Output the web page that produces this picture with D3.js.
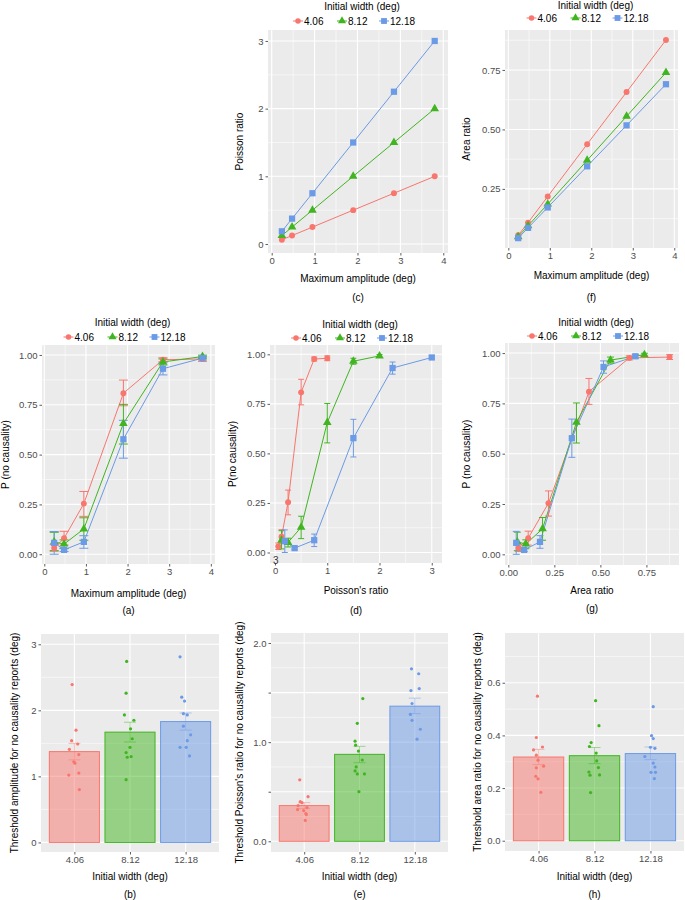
<!DOCTYPE html>
<html><head><meta charset="utf-8">
<script src="https://cdn.jsdelivr.net/npm/d3@7"></script>
<style>body{margin:0;background:#fff}svg{display:block;font-family:"Liberation Sans",Arial,Helvetica,sans-serif}</style>
</head><body><svg id="chart" width="685" height="900"></svg>
<script>
// ---------------- DATA ----------------
const widths = ["4.06", "8.12", "12.18"];
const amplitude = [0.2375, 0.475, 0.95, 1.9, 2.85, 3.8];

const poissonRed   = [0.0625, 0.125, 0.25, 0.5, 0.75, 1.0];
const poissonGreen = [0.125, 0.25, 0.5, 1.0, 1.5, 2.0];
const poissonBlue  = [0.1875, 0.375, 0.75, 1.5, 2.25, 3.0];

const areaRed   = [0.055, 0.108, 0.218, 0.438, 0.657, 0.876];
const areaGreen = [0.049, 0.095, 0.186, 0.370, 0.555, 0.739];
const areaBlue  = [0.043, 0.086, 0.172, 0.345, 0.517, 0.690];

const pRed     = [0.031, 0.080, 0.254, 0.808, 0.976, 0.980];
const pRedLo   = [0.015, 0.046, 0.190, 0.745, 0.966, 0.968];
const pRedHi   = [0.048, 0.115, 0.315, 0.874, 0.986, 0.992];
const pGreen   = [0.062, 0.051, 0.127, 0.656, 0.965, 0.992];
const pGreenLo = [0.018, 0.028, 0.070, 0.553, 0.950, 0.985];
const pGreenHi = [0.110, 0.072, 0.183, 0.752, 0.980, 0.999];
const pBlue    = [0.057, 0.022, 0.062, 0.577, 0.931, 0.984];
const pBlueLo  = [0.000, 0.014, 0.030, 0.482, 0.900, 0.975];
const pBlueHi  = [0.114, 0.030, 0.093, 0.672, 0.961, 0.993];

// threshold amplitude (b)
const ampMeans = [1.375, 1.67, 1.83];
const ampSeLo  = [1.25, 1.52, 1.70];
const ampSeHi  = [1.50, 1.82, 1.96];
const ampPtsRed   = [2.39, 1.70, 1.54, 1.41, 1.49, 1.33, 1.22, 1.20, 1.02, 1.05, 0.80];
const ampPtsGreen = [2.74, 2.26, 1.93, 1.85, 1.72, 1.57, 1.44, 1.36, 1.29, 1.30, 0.95];
const ampPtsBlue  = [2.81, 2.20, 2.14, 1.95, 1.93, 1.76, 1.63, 1.54, 1.44, 1.44, 1.31];
const ampJitRed   = [-0.04, 0.03, -0.05, -0.09, 0.06, 0.08, -0.01, 0.01, -0.10, 0.08, 0.09];
const ampJitGreen = [-0.06, -0.07, -0.10, 0.07, 0.01, 0.04, 0.00, -0.07, -0.05, 0.02, -0.07];
const ampJitBlue  = [-0.10, -0.07, -0.02, -0.04, 0.03, -0.04, 0.09, 0.03, -0.10, 0.01, 0.07];

// threshold Poisson's ratio (e)
const poiMeans = [0.36, 0.877, 1.363];
const poiSeLo  = [0.33, 0.793, 1.288];
const poiSeHi  = [0.39, 0.958, 1.444];
const poiPtsRed   = [0.62, 0.45, 0.40, 0.39, 0.36, 0.34, 0.31, 0.28, 0.27, 0.32, 0.21];
const poiPtsGreen = [1.44, 1.19, 1.01, 0.97, 0.91, 0.82, 0.75, 0.71, 0.68, 0.68, 0.50];
const poiPtsBlue  = [1.74, 1.69, 1.52, 1.54, 1.39, 1.28, 1.22, 1.13, 1.03];
const poiJitRed   = [-0.08, 0.07, -0.07, -0.04, -0.11, 0.05, -0.01, 0.03, 0.04, -0.12, 0.02];
const poiJitGreen = [0.06, -0.04, -0.08, -0.07, -0.02, 0.05, -0.06, -0.08, -0.04, 0.09, -0.01];
const poiJitBlue  = [-0.06, 0.07, -0.07, 0.08, -0.05, -0.08, -0.05, 0.10, 0.04];

// threshold area ratio (h)
const arMeans = [0.318, 0.323, 0.331];
const arSeLo  = [0.289, 0.293, 0.308];
const arSeHi  = [0.347, 0.354, 0.356];
const arPtsRed   = [0.549, 0.392, 0.345, 0.356, 0.325, 0.306, 0.283, 0.277, 0.235, 0.245, 0.184];
const arPtsGreen = [0.532, 0.437, 0.373, 0.358, 0.333, 0.303, 0.278, 0.261, 0.249, 0.250, 0.183];
const arPtsBlue  = [0.509, 0.399, 0.388, 0.355, 0.351, 0.320, 0.295, 0.280, 0.260, 0.260, 0.236];
const arJitRed   = [-0.02, -0.04, -0.09, 0.07, -0.04, -0.01, 0.09, -0.04, -0.01, -0.05, 0.04];
const arJitGreen = [0.02, 0.08, -0.06, -0.09, 0.03, 0.04, 0.07, -0.10, -0.08, 0.09, -0.07];
const arJitBlue  = [0.05, 0.02, 0.05, 0.00, 0.08, -0.10, 0.05, 0.08, 0.01, 0.09, 0.07];

// ---------------- STYLE ----------------
const COLORS = ["#F8766D", "#40B520", "#6B9AE6"];
const SHAPES = [d3.symbolCircle, d3.symbolTriangle, d3.symbolSquare];
const SHAPE_SIZE = [24, 28, 34];
const svg = d3.select("#chart");
svg.append("rect").attr("width", 685).attr("height", 900).attr("fill", "#fff");

function drawFrame(g, P, x, y, xMajor, xMinor, yMajor, yMinor, xFmt, yFmt, xTickVals) {
  g.append("rect").attr("x", P.x0).attr("y", P.y0).attr("width", P.x1 - P.x0).attr("height", P.y1 - P.y0).attr("fill", "#EBEBEB");
  const clipMinor = (v, sc, a, b) => { const p = sc(v); return p >= Math.min(a,b) && p <= Math.max(a,b); };
  yMinor.filter(v => clipMinor(v, y, P.y0, P.y1)).forEach(v => g.append("line").attr("x1", P.x0).attr("x2", P.x1).attr("y1", y(v)).attr("y2", y(v)).attr("stroke", "#fff").attr("stroke-width", 0.55));
  xMinor.filter(v => clipMinor(v, x, P.x0, P.x1)).forEach(v => g.append("line").attr("y1", P.y0).attr("y2", P.y1).attr("x1", x(v)).attr("x2", x(v)).attr("stroke", "#fff").attr("stroke-width", 0.55));
  yMajor.forEach(v => g.append("line").attr("x1", P.x0).attr("x2", P.x1).attr("y1", y(v)).attr("y2", y(v)).attr("stroke", "#fff").attr("stroke-width", 1.1));
  xMajor.forEach(v => g.append("line").attr("y1", P.y0).attr("y2", P.y1).attr("x1", x(v)).attr("x2", x(v)).attr("stroke", "#fff").attr("stroke-width", 1.1));
  const xAxis = d3.axisBottom(x).tickValues(xTickVals || xMajor).tickFormat(xFmt).tickSize(2.5).tickPadding(2);
  const gx = g.append("g").attr("transform", `translate(0,${P.y1})`).call(xAxis);
  const yAxis = d3.axisLeft(y).tickValues(yMajor).tickFormat(yFmt).tickSize(2.5).tickPadding(2);
  const gy = g.append("g").attr("transform", `translate(${P.x0},0)`).call(yAxis);
  [gx, gy].forEach(a => {
    a.select(".domain").remove();
    a.selectAll(".tick line").attr("stroke", "#333").attr("stroke-width", 0.8);
    a.selectAll(".tick text").attr("fill", "#4D4D4D").attr("font-size", 9.5).attr("font-family", '"Liberation Sans",Arial,sans-serif');
  });
}

function titles(g, P, o) {
  const cx = (P.x0 + P.x1) / 2;
  g.append("text").attr("x", cx).attr("y", o.xTitleY).attr("text-anchor", "middle").attr("font-size", 10).attr("fill", "#000").text(o.xTitle);
  g.append("text").attr("transform", `translate(${o.yTitleX},${(P.y0 + P.y1) / 2}) rotate(-90)`).attr("text-anchor", "middle").attr("font-size", o.yTitleSize || 10).attr("fill", "#000").text(o.yTitle);
  g.append("text").attr("x", cx).attr("y", o.labelY).attr("text-anchor", "middle").attr("font-size", 10).attr("fill", "#000").text(o.label);
}

function legend(g, cx, ty, iy) {
  g.append("text").attr("x", cx + 4).attr("y", ty + 3.5).attr("text-anchor", "middle").attr("font-size", 10).attr("fill", "#000").text("Initial width (deg)");
  const offs = [-60, -16, 26];
  widths.forEach((w, i) => {
    const sx = cx + offs[i];
    g.append("line").attr("x1", sx - 5).attr("x2", sx + 5).attr("y1", iy).attr("y2", iy).attr("stroke", COLORS[i]).attr("stroke-width", 1);
    g.append("path").attr("d", d3.symbol().type(SHAPES[i]).size(SHAPE_SIZE[i])()).attr("transform", `translate(${sx},${iy})`).attr("fill", COLORS[i]);
    g.append("text").attr("x", sx + 6).attr("y", iy + 3.5).attr("font-size", 10).attr("fill", "#000").text(w);
  });
}

function linePanel(o) {
  const P = o.P;
  const g = svg.append("g");
  const x = d3.scaleLinear().domain(o.xDomain).range([P.x0, P.x1]);
  const y = d3.scaleLinear().domain(o.yDomain).range([P.y1, P.y0]);
  drawFrame(g, P, x, y, o.xMajor, o.xMinor, o.yMajor, o.yMinor, o.xFmt, o.yFmt);
  const line = d3.line().x(d => x(d.x)).y(d => y(d.y));
  const ser = o.series.map((s, i) => s.x.map((xv, j) => ({ x: xv, y: s.y[j], lo: s.lo ? s.lo[j] : null, hi: s.hi ? s.hi[j] : null, i })));
  ser.forEach((pts, i) => g.append("path").datum(pts).attr("d", line).attr("fill", "none").attr("stroke", COLORS[i]).attr("stroke-width", 1));
  ser.forEach((pts, i) => pts.forEach(d => {
    if (d.lo == null) return;
    const cx = x(d.x), w = o.capW / 2;
    const eg = g.append("g").attr("stroke", COLORS[i]).attr("stroke-width", 1);
    eg.append("line").attr("x1", cx).attr("x2", cx).attr("y1", y(d.lo)).attr("y2", y(d.hi));
    eg.append("line").attr("x1", cx - w).attr("x2", cx + w).attr("y1", y(d.lo)).attr("y2", y(d.lo));
    eg.append("line").attr("x1", cx - w).attr("x2", cx + w).attr("y1", y(d.hi)).attr("y2", y(d.hi));
  }));
  ser.forEach((pts, i) => pts.forEach(d => {
    g.append("path").attr("d", d3.symbol().type(SHAPES[i]).size(SHAPE_SIZE[i] * 1.15)()).attr("transform", `translate(${x(d.x)},${y(d.y)})`).attr("fill", COLORS[i]);
  }));
  legend(g, (P.x0 + P.x1) / 2, o.legendTY, o.legendIY);
  titles(g, P, o);
  return g;
}

function barPanel(o) {
  const P = o.P;
  const g = svg.append("g");
  const x = d3.scaleLinear().domain([0.4, 3.6]).range([P.x0, P.x1]);
  const y = d3.scaleLinear().domain(o.yDomain).range([P.y1, P.y0]);
  drawFrame(g, P, x, y, [1, 2, 3], [], o.yMajor, o.yMinor, (d) => widths[d - 1], o.yFmt);
  o.means.forEach((m, i) => {
    const c = i + 1;
    g.append("rect").attr("x", x(c - 0.45)).attr("width", x(c + 0.45) - x(c - 0.45)).attr("y", y(m)).attr("height", y(0) - y(m))
      .attr("fill", COLORS[i]).attr("fill-opacity", 0.5).attr("stroke", COLORS[i]).attr("stroke-width", 1);
  });
  o.means.forEach((m, i) => {
    const c = i + 1, w = 6;
    const eg = g.append("g").attr("stroke", COLORS[i]).attr("stroke-opacity", 0.45).attr("stroke-width", 1);
    eg.append("line").attr("x1", x(c)).attr("x2", x(c)).attr("y1", y(o.lo[i])).attr("y2", y(o.hi[i]));
    eg.append("line").attr("x1", x(c) - w).attr("x2", x(c) + w).attr("y1", y(o.lo[i])).attr("y2", y(o.lo[i]));
    eg.append("line").attr("x1", x(c) - w).attr("x2", x(c) + w).attr("y1", y(o.hi[i])).attr("y2", y(o.hi[i]));
  });
  o.points.forEach((pts, i) => pts.forEach((v, j) => {
    g.append("circle").attr("cx", x(i + 1 + o.jitter[i][j])).attr("cy", y(v)).attr("r", 1.6).attr("fill", COLORS[i]);
  }));
  titles(g, P, o);
  return g;
}

const f2 = d3.format(".2f"), f1 = d3.format(".1f"), f0 = d3.format("d");

// (c)
linePanel({ P: { x0: 268, x1: 448, y0: 30, y1: 253 }, xDomain: [-0.086, 4.11], yDomain: [-0.133, 3.162],
  xMajor: [0, 1, 2, 3, 4], xMinor: [0.5, 1.5, 2.5, 3.5], yMajor: [0, 1, 2, 3], yMinor: [0.5, 1.5, 2.5], xFmt: f0, yFmt: f0,
  series: [{ x: amplitude, y: poissonRed }, { x: amplitude, y: poissonGreen }, { x: amplitude, y: poissonBlue }],
  legendTY: 6, legendIY: 21, xTitle: "Maximum amplitude (deg)", xTitleY: 282, yTitle: "Poisson ratio", yTitleX: 243, label: "(c)", labelY: 301, capW: 8 });

// (f)
linePanel({ P: { x0: 505, x1: 678, y0: 30, y1: 248 }, xDomain: [-0.08, 4.09], yDomain: [0.0015, 0.918],
  xMajor: [0, 1, 2, 3, 4], xMinor: [0.5, 1.5, 2.5, 3.5], yMajor: [0.25, 0.5, 0.75], yMinor: [0.125, 0.375, 0.625, 0.875], xFmt: f0, yFmt: f2,
  series: [{ x: amplitude, y: areaRed }, { x: amplitude, y: areaGreen }, { x: amplitude, y: areaBlue }],
  legendTY: 5, legendIY: 18, xTitle: "Maximum amplitude (deg)", xTitleY: 279, yTitle: "Area ratio", yTitleX: 470, label: "(f)", labelY: 301, capW: 8 });

// (a)
linePanel({ P: { x0: 42, x1: 215, y0: 345, y1: 564 }, xDomain: [-0.055, 4.1], yDomain: [-0.049, 1.05],
  xMajor: [0, 1, 2, 3, 4], xMinor: [0.5, 1.5, 2.5, 3.5], yMajor: [0, 0.25, 0.5, 0.75, 1], yMinor: [0.125, 0.375, 0.625, 0.875], xFmt: f0, yFmt: f2,
  series: [{ x: amplitude, y: pRed, lo: pRedLo, hi: pRedHi }, { x: amplitude, y: pGreen, lo: pGreenLo, hi: pGreenHi }, { x: amplitude, y: pBlue, lo: pBlueLo, hi: pBlueHi }],
  legendTY: 322, legendIY: 337, xTitle: "Maximum amplitude (deg)", xTitleY: 597, yTitle: "P (no causality)", yTitleX: 9, label: "(a)", labelY: 614, capW: 9 });

// (d)
const gd = linePanel({ P: { x0: 270, x1: 442, y0: 345, y1: 563 }, xDomain: [-0.096, 3.196], yDomain: [-0.053, 1.047],
  xMajor: [0, 1, 2, 3], xMinor: [0.5, 1.5, 2.5], yMajor: [0, 0.25, 0.5, 0.75, 1], yMinor: [0.125, 0.375, 0.625, 0.875], xFmt: f0, yFmt: f2,
  series: [{ x: poissonRed, y: pRed, lo: pRedLo, hi: pRedHi }, { x: poissonGreen, y: pGreen, lo: pGreenLo, hi: pGreenHi }, { x: poissonBlue, y: pBlue, lo: pBlueLo, hi: pBlueHi }],
  legendTY: 324, legendIY: 338, xTitle: "Poisson's ratio", xTitleY: 594, yTitle: "P(no causality)", yTitleX: 236, label: "(d)", labelY: 614, capW: 6 });
gd.append("text").attr("x", 273).attr("y", 564).attr("font-size", 10).attr("fill", "#333").text("3");

// (g)
linePanel({ P: { x0: 505, x1: 679, y0: 343, y1: 565 }, xDomain: [-0.018, 0.927], yDomain: [-0.053, 1.05],
  xMajor: [0, 0.25, 0.5, 0.75], xMinor: [0.125, 0.375, 0.625, 0.875], yMajor: [0, 0.25, 0.5, 0.75, 1], yMinor: [0.125, 0.375, 0.625, 0.875], xFmt: f2, yFmt: f2,
  series: [{ x: areaRed, y: pRed, lo: pRedLo, hi: pRedHi }, { x: areaGreen, y: pGreen, lo: pGreenLo, hi: pGreenHi }, { x: areaBlue, y: pBlue, lo: pBlueLo, hi: pBlueHi }],
  legendTY: 322, legendIY: 336, xTitle: "Area ratio", xTitleY: 594, yTitle: "P (no causality)", yTitleX: 470, label: "(g)", labelY: 612, capW: 7 });

// (b)
barPanel({ P: { x0: 41, x1: 219, y0: 634, y1: 852 }, yDomain: [-0.145, 3.156], yMajor: [0, 1, 2, 3], yMinor: [0.5, 1.5, 2.5], yFmt: f0,
  means: ampMeans, lo: ampSeLo, hi: ampSeHi, points: [ampPtsRed, ampPtsGreen, ampPtsBlue], jitter: [ampJitRed, ampJitGreen, ampJitBlue],
  xTitle: "Initial width (deg)", xTitleY: 880, yTitle: "Threshold amplitude for no causality reports (deg)", yTitleX: 18, yTitleSize: 10, label: "(b)", labelY: 898 });

// (e)
barPanel({ P: { x0: 271, x1: 448, y0: 633, y1: 852 }, yDomain: [-0.108, 2.101], yMajor: [0, 0.5, 1, 1.5, 2], yMinor: [0.25, 0.75, 1.25, 1.75],
  yFmt: d => (d === 0.5 || d === 1.5) ? "" : f1(d),
  means: poiMeans, lo: poiSeLo, hi: poiSeHi, points: [poiPtsRed, poiPtsGreen, poiPtsBlue], jitter: [poiJitRed, poiJitGreen, poiJitBlue],
  xTitle: "Initial width (deg)", xTitleY: 880, yTitle: "Threshold Poisson's ratio for no causality reports (deg)", yTitleX: 243, yTitleSize: 10, label: "(e)", labelY: 898 });

// (h)
barPanel({ P: { x0: 505, x1: 684, y0: 633, y1: 851 }, yDomain: [-0.039, 0.789], yMajor: [0, 0.2, 0.4, 0.6], yMinor: [0.1, 0.3, 0.5, 0.7], yFmt: f1,
  means: arMeans, lo: arSeLo, hi: arSeHi, points: [arPtsRed, arPtsGreen, arPtsBlue], jitter: [arJitRed, arJitGreen, arJitBlue],
  xTitle: "Initial width (deg)", xTitleY: 880, yTitle: "Threshold area ratio for no causality reports (deg)", yTitleX: 481, yTitleSize: 10, label: "(h)", labelY: 898 });
</script></body></html>
